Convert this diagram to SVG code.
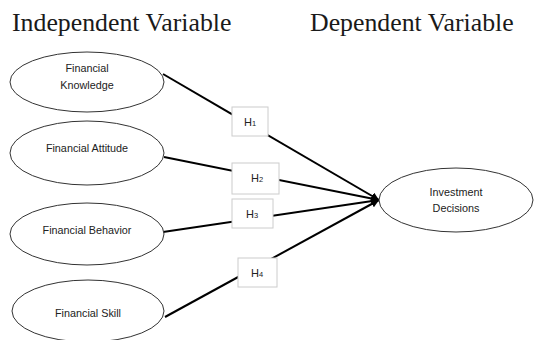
<svg xmlns="http://www.w3.org/2000/svg" width="535" height="349" viewBox="0 0 535 349">
<defs>
<marker id="arr" viewBox="0 0 10 10" refX="10" refY="5" markerWidth="4" markerHeight="4" orient="auto" markerUnits="strokeWidth">
<path d="M0,0 L10,5 L0,10 z" fill="#000"/>
</marker>
<clipPath id="pg"><rect x="0" y="0" width="535" height="340"/></clipPath>
</defs>
<style>
.title{font-family:"Liberation Serif","Times New Roman",serif;font-size:25.8px;fill:#1a1a1a}
.node ellipse{fill:#fff;stroke:#333;stroke-width:1}
.lbl{font-family:"Liberation Sans",Arial,sans-serif;font-size:10.8px;fill:#222;text-anchor:middle}
.conn line{stroke:#000;stroke-width:2;marker-end:url(#arr)}
.hb rect{fill:#fff;stroke:#ccc;stroke-width:1}
.hb text{font-family:"Liberation Sans",Arial,sans-serif;font-size:11px;fill:#222;text-anchor:middle}
.sub{font-size:7.5px}
</style>
<rect width="535" height="349" fill="#fff"/>
<text class="title" x="12" y="31">Independent Variable</text>
<text class="title" x="310" y="31">Dependent Variable</text>

<g id="connectors" class="conn">
<line x1="163" y1="74" x2="379" y2="200"/>
<line x1="164" y1="157" x2="379" y2="200"/>
<line x1="163" y1="232" x2="379" y2="200"/>
<line x1="165" y1="317" x2="379" y2="200"/>
</g>

<g id="fk" class="node">
<ellipse cx="87" cy="82" rx="77" ry="30"/>
<text class="lbl" x="87" y="72">Financial</text>
<text class="lbl" x="87" y="89">Knowledge</text>
</g>
<g id="fa" class="node">
<ellipse cx="87" cy="153" rx="77" ry="32"/>
<text class="lbl" x="87" y="152">Financial Attitude</text>
</g>
<g id="fb" class="node">
<ellipse cx="87" cy="234" rx="77" ry="31"/>
<text class="lbl" x="87" y="234">Financial Behavior</text>
</g>
<g id="fs" class="node" clip-path="url(#pg)">
<ellipse cx="88" cy="311" rx="76" ry="31"/>
<text class="lbl" x="88" y="317">Financial Skill</text>
</g>
<g id="id" class="node">
<ellipse cx="456" cy="200" rx="77" ry="32"/>
<text class="lbl" x="456" y="196">Investment</text>
<text class="lbl" x="456" y="212">Decisions</text>
</g>

<g id="h1" class="hb">
<rect x="232" y="107" width="36" height="29"/>
<text x="250" y="126">H<tspan class="sub">1</tspan></text>
</g>
<g id="h2" class="hb">
<rect x="232" y="163" width="47" height="31"/>
<text x="257" y="182">H<tspan class="sub">2</tspan></text>
</g>
<g id="h3" class="hb">
<rect x="232" y="199" width="41" height="29"/>
<text x="252" y="218">H<tspan class="sub">3</tspan></text>
</g>
<g id="h4" class="hb">
<rect x="238" y="258" width="39" height="29"/>
<text x="257" y="277">H<tspan class="sub">4</tspan></text>
</g>
</svg>
